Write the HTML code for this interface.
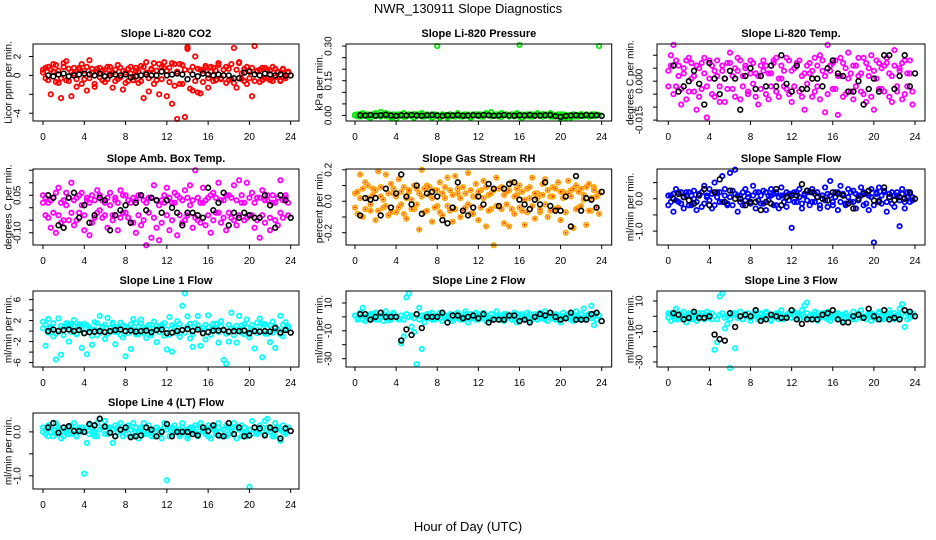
<!DOCTYPE html>
<html><head><meta charset="utf-8"><title>NWR_130911 Slope Diagnostics</title>
<style>
html,body{margin:0;padding:0;background:#fff;}
svg{display:block;font-family:"Liberation Sans",Arial,sans-serif;}
</style></head>
<body>
<svg id="chart" width="936" height="540" viewBox="0 0 936 540" xmlns="http://www.w3.org/2000/svg">
<rect x="0" y="0" width="936" height="540" fill="#fff"/>
<text x="468" y="13" text-anchor="middle" font-size="13" fill="#000">NWR_130911  Slope Diagnostics</text>
<text x="468" y="531" text-anchor="middle" font-size="13" fill="#000">Hour of Day (UTC)</text>
</svg>
<script>
const hoursQ=[0,0.25,0.5,0.75,1,1.25,1.5,1.75,2,2.25,2.5,2.75,3,3.25,3.5,3.75,4,4.25,4.5,4.75,5,5.25,5.5,5.75,6,6.25,6.5,6.75,7,7.25,7.5,7.75,8,8.25,8.5,8.75,9,9.25,9.5,9.75,10,10.25,10.5,10.75,11,11.25,11.5,11.75,12,12.25,12.5,12.75,13,13.25,13.5,13.75,14,14.25,14.5,14.75,15,15.25,15.5,15.75,16,16.25,16.5,16.75,17,17.25,17.5,17.75,18,18.25,18.5,18.75,19,19.25,19.5,19.75,20,20.25,20.5,20.75,21,21.25,21.5,21.75,22,22.25,22.5,22.75,23,23.25,23.5,23.75];
const hoursH=[0.5,1,1.5,2,2.5,3,3.5,4,4.5,5,5.5,6,6.5,7,7.5,8,8.5,9,9.5,10,10.5,11,11.5,12,12.5,13,13.5,14,14.5,15,15.5,16,16.5,17,17.5,18,18.5,19,19.5,20,20.5,21,21.5,22,22.5,23,23.5,24];
const xTicks=[0,4,8,12,16,20,24];

const co2A=[0.6,-0.3,0.9,-2,0.4,1.1,-0.8,-2.4,1.3,-0.5,0.7,-2.2,0.2,-1.2,0.8,1.2,-0.4,-1.6,1.6,0.3,-0.9,0.7,-0.2,0.5,-0.7,0.9,0.2,-1.3,0.6,-0.4,0.8,-1.5,0.3,-0.6,0.9,-0.2,0.5,-0.8,1,-2.4,0.3,-1.7,0.7,1.3,-0.5,-2,0.9,1.4,-2.2,0.8,-3,1.2,-4.6,-0.9,1.1,-4.4,3,0.5,-1.6,2,-1.8,0.6,-0.7,1,-1.3,0.4,0.8,-0.5,1.1,-0.3,0.6,-0.8,0.7,-0.4,2.9,-1.3,1.4,0.2,-0.6,0.9,-0.3,-2.2,3.1,0.5,-0.7,0.8,-0.3,0.6,-0.5,0.9,-0.2,0.4,-0.6,0.7,-0.1,0.3];
const co2B=[0.3,0.8,-0.5,0.6,1.2,-0.7,0.5,-0.3,0.9,1.5,-0.6,0.4,0.8,-0.4,0.6,-0.9,0.5,0.9,-0.3,0.7,-1.2,0.4,0.8,-0.5,0.6,-0.4,0.9,0.3,-0.6,1.1,-0.2,0.5,-0.8,0.7,0.2,-0.5,0.8,0.4,-0.6,0.9,1.4,-0.3,0.6,-0.9,0.5,1.2,-0.4,0.8,0.5,-0.7,1.3,-1.1,0.4,1.2,-0.9,0.6,2.8,-1.4,0.9,-0.6,0.7,-1.9,0.5,0.8,-0.3,0.9,-0.6,0.5,1.3,-0.4,0.6,0.9,-0.5,1.2,-0.8,0.6,1.3,-0.4,0.7,-0.9,0.5,0.8,-0.6,0.4,0.6,-0.5,0.8,-0.3,0.5,-0.6,0.7,0.3,-0.5,0.6,-0.3,0.4];
const co2K=[0,-0.1,0.1,0.2,-0.1,0,0.1,0.2,0.1,0,0.2,-0.1,0,0.1,0,0.1,-0.2,-0.1,0,0.1,0,0,0.4,0,0.1,0.2,0.1,-0.4,0.1,-0.1,0.2,0.1,0,0.1,0,0,-0.3,-0.3,0.3,0.4,0.1,0,0.2,0.1,0,0.1,0,0];

const presA=[0,0.005,-0.005,0.01,0,0.005,-0.01,0.005,0.01,0,0.015,0.005,0.01,0,-0.01,0.005,-0.015,0.005,0,0.01,-0.005,0.005,0,-0.01,0.005,0,0.01,-0.005,0.005,0,-0.01,0.005,0.3,-0.01,0.005,0,-0.01,0.005,0,-0.005,0.01,0,-0.005,0.005,0,-0.01,0.005,0,0.005,-0.005,0,0.01,0.005,0.015,0,0.005,-0.005,0.01,0,0.005,-0.005,0.005,0,0.01,0.305,-0.01,0,0.005,-0.005,0.005,0,0.01,0,-0.005,0.005,0,0.01,-0.005,0,0.005,-0.015,0.005,-0.01,0,-0.01,0.005,0,-0.005,0.005,0,0.005,-0.005,0,0.005,0,0.3];
const presB=[0.003,-0.004,0.006,-0.002,0.004,-0.006,0.002,0.005,-0.003,0.004,-0.005,0.002,-0.004,0.006,0.001,-0.005,0.003,-0.002,0.005,-0.006,0.002,0.004,-0.003,0.006,-0.002,0.004,-0.005,0.003,0.001,-0.004,0.005,-0.002,0.003,-0.006,0.004,0.002,-0.003,0.005,-0.004,0.002,0.006,-0.005,0.003,-0.002,0.004,-0.006,0.002,0.005,-0.003,0.004,-0.005,0.006,0.002,-0.004,0.003,-0.002,0.005,-0.006,0.004,0.001,-0.003,0.005,-0.004,0.002,-0.006,0.004,0.003,-0.002,0.005,-0.005,0.002,0.004,-0.003,0.006,-0.002,0.003,-0.005,0.004,0.002,-0.004,0.005,-0.006,0.003,0.001,-0.003,0.004,-0.005,0.002,0.006,-0.004,0.003,-0.002,0.005,-0.003,0.004,0.002];
const presK=[0.001,0,0.002,-0.001,0.001,0.003,0,-0.002,0.001,0,0.002,0,-0.001,0.001,0.002,0,-0.002,0.001,0,0.002,-0.001,0,0.001,0,0.002,0.001,-0.001,0,0.002,0,-0.001,0.001,0,0.002,-0.001,0,0.001,0.002,-0.003,-0.006,-0.002,0,0.001,-0.001,0.002,0,0.001,-0.002];

const tempA=[0.004,0.01,0.014,-0.002,0.006,-0.009,0.003,0.008,-0.004,0.007,0.002,-0.011,0.005,-0.003,0.009,-0.014,0.001,0.006,-0.006,0.008,-0.002,0.004,-0.008,0.007,0.011,-0.003,0.005,0.009,-0.007,0.002,0.006,-0.004,0.008,-0.001,0.003,-0.009,0.006,0.008,-0.005,0.003,-0.002,0.007,0.009,-0.006,0.001,0.004,-0.003,0.008,-0.008,0.005,0.007,-0.004,0.002,-0.011,0.006,0.003,-0.006,0.009,-0.002,0.010,0.004,-0.012,0.014,0.006,-0.003,0.008,-0.013,0.002,0.007,-0.005,0.011,0.003,-0.007,0.006,0.002,-0.004,0.009,-0.008,0.005,0.010,-0.011,0.001,0.007,-0.003,0.006,0.009,-0.006,0.002,0.012,-0.004,0.005,-0.007,0.008,-0.002,0.003,-0.009];
const tempB=[-0.002,0.006,-0.005,0.008,0.002,-0.003,0.005,-0.007,0.009,0.001,-0.004,0.006,-0.006,0.007,0.003,-0.002,0.008,-0.005,0.004,0.002,-0.008,0.006,0.001,-0.003,0.007,0.002,-0.006,0.004,0.008,-0.002,0.005,-0.005,0.003,0.007,-0.006,0.002,-0.003,0.004,0.006,-0.007,0.003,0.008,-0.004,0.001,0.006,-0.002,0.009,-0.005,0.004,-0.002,0.006,0.008,-0.006,0.003,-0.001,0.007,0.004,-0.004,0.006,-0.007,0.008,0.002,-0.005,0.004,0.007,-0.003,0.002,0.009,-0.006,0.005,0.001,-0.004,0.006,-0.002,0.009,0.003,-0.005,0.007,0.002,-0.006,0.004,0.008,-0.003,0.005,-0.004,0.007,0.003,-0.008,0.006,-0.002,0.004,0.007,-0.005,0.003,0.008,-0.004];
const tempK=[0.006,-0.004,-0.002,0,0.004,-0.001,-0.009,0.007,0.001,-0.005,0.001,0.004,0.001,-0.011,0.002,0.005,-0.003,0.002,-0.002,0.006,-0.002,0.010,-0.001,-0.004,0.006,-0.003,-0.003,0.001,0.001,-0.002,0.005,0.008,0.003,0.002,-0.004,-0.004,0,-0.009,-0.003,0.001,-0.004,0.010,0.010,-0.003,0.002,0.010,-0.002,0.003];

const ambA=[0.05,-0.03,0.02,-0.08,0.04,-0.1,0.08,-0.06,0.03,0.06,-0.05,0.1,-0.07,0.04,-0.02,0.06,-0.09,0.03,-0.11,0.05,-0.04,0.07,-0.01,0.03,0.02,-0.08,0.06,-0.03,0.04,-0.09,0.07,-0.02,0.05,-0.04,0.02,-0.06,-0.1,0.05,-0.07,0.03,-0.15,0.04,-0.12,0.09,-0.08,-0.13,0.03,0.05,0.08,-0.09,0.02,0.06,-0.11,0.04,-0.06,0.07,-0.03,0.09,-0.08,0.15,-0.05,0.02,0.08,-0.07,0.04,-0.1,0.06,-0.02,0.1,-0.06,0.03,-0.09,0.05,-0.04,0.09,-0.07,0.11,0.02,-0.05,0.1,-0.03,0.06,-0.08,0.04,-0.12,0.07,-0.06,0.03,-0.09,0.05,0.02,-0.07,0.11,-0.04,0.04,0.02];
const ambB=[0.02,0.04,-0.04,0.03,-0.02,0.06,-0.03,0.02,-0.05,0.01,0.04,-0.02,0.03,-0.05,0.05,0.01,-0.03,0.04,0.02,-0.06,0.03,-0.02,0.05,-0.04,-0.03,0.04,0.01,-0.05,0.03,0.02,-0.04,0.05,-0.02,0.03,-0.06,0.04,0.03,-0.03,0.05,-0.05,0.02,-0.02,0.04,-0.04,0.03,0.01,-0.06,0.02,-0.03,0.04,-0.05,0.02,0.05,-0.03,0.03,-0.05,0.04,0.01,0.03,-0.04,0.04,-0.06,0.02,0.03,-0.03,0.05,-0.05,0.04,-0.02,0.03,-0.04,0.05,-0.02,0.04,-0.05,0.03,-0.03,0.05,0.02,-0.04,0.04,-0.03,0.02,-0.05,0.04,-0.03,0.03,0.05,-0.04,0.02,-0.05,0.04,-0.02,0.03,0.05,-0.03];
const ambK=[0.05,0.04,-0.07,-0.08,0.04,0.06,-0.04,0.01,-0.06,-0.03,0.04,0.03,-0.09,-0.03,-0.01,0.01,-0.06,0.02,0.05,-0.01,0.04,0.03,-0.02,0.03,0,-0.02,-0.07,-0.02,-0.02,-0.03,-0.04,0.08,-0.01,0.02,0.06,-0.07,-0.02,-0.04,-0.02,-0.03,-0.04,-0.04,0.05,0.01,-0.08,0.05,0.03,-0.04];

const rhA=[0.05,-0.08,0.17,-0.1,0.12,0.02,-0.06,0.08,-0.12,0.19,0.03,-0.04,0.17,-0.09,0.11,0.05,-0.07,0.14,-0.02,0.09,-0.11,0.06,0.01,-0.05,0.08,-0.18,0.2,-0.07,0.1,0.04,-0.13,0.07,-0.03,0.12,-0.09,0.02,0.15,-0.06,-0.13,0.16,0.05,-0.1,0.09,-0.04,0.18,-0.08,0.03,0.11,-0.12,0.07,0.13,-0.16,0.04,-0.05,-0.28,0.15,-0.03,0.09,-0.14,0.06,-0.16,0.12,-0.08,0.04,0.1,-0.06,-0.15,0.08,0.02,0.15,-0.11,0.05,-0.07,0.11,0.14,-0.1,0.03,0.09,-0.05,0.12,-0.12,0.06,-0.2,0.13,0.07,-0.17,0.1,-0.04,0.08,0.01,-0.15,0.11,-0.06,0.09,0.03,-0.08];
const rhB=[-0.04,0.06,0.02,0.08,-0.05,0.1,-0.02,0.04,0.07,-0.06,0.09,0.01,-0.03,0.05,-0.07,0.08,0.03,-0.04,0.06,-0.08,0.02,0.07,-0.05,0.1,-0.02,0.05,0.03,0.08,-0.06,0.09,0.02,-0.04,0.07,-0.07,0.05,0.09,-0.03,0.07,0.04,-0.05,0.08,0.02,-0.06,0.05,-0.02,0.07,-0.08,0.03,0.06,-0.04,0.02,0.09,-0.06,0.05,0.07,-0.03,0.08,-0.05,0.04,-0.02,0.07,-0.05,0.03,0.08,-0.04,0.06,0.01,-0.07,0.09,-0.03,0.05,0.02,-0.05,0.04,-0.02,0.07,-0.06,0.03,0.08,-0.04,0.06,0.02,-0.07,0.05,0.03,0.08,-0.05,0.06,-0.03,0.04,0.09,-0.06,0.02,0.07,-0.04,0.05];
const rhK=[-0.09,0.02,0.01,0.02,-0.09,0.08,-0.04,0.05,0.17,0.03,-0.02,0.1,-0.08,0.05,0.06,0.03,-0.12,-0.14,-0.04,0.12,-0.06,-0.09,-0.04,0.03,-0.02,0.11,0.08,-0.03,0.08,0.11,0.12,0.01,-0.02,-0.05,0.01,-0.02,0.12,-0.03,-0.06,-0.06,0.03,-0.16,0.16,-0.06,0.02,0.01,-0.04,0.06];

const sfA=[-0.2,0.1,-0.4,0.3,-0.1,0.2,-0.3,0.1,0.2,-0.2,0.25,-0.35,0.15,-0.25,0.4,0.05,0.3,-0.3,0.5,0.2,-0.1,0.7,0.3,-0.2,0.8,0.25,0.9,-0.4,0.1,-0.2,0.3,0.05,-0.1,0.4,-0.3,0.2,-0.15,0.25,-0.35,0.1,0.3,-0.2,0.2,-0.3,0.35,0.1,-0.25,0.15,-0.9,0.2,-0.1,0.3,-0.3,0.15,0.25,-0.2,0.3,-0.1,0.2,-0.3,0.1,0.35,-0.25,0.55,-0.1,0.2,-0.35,0.4,0.15,-0.2,0.3,-0.1,0.25,-0.3,0.1,0.35,-0.2,0.15,-0.35,0.3,-1.35,0.2,0.35,-0.15,0.25,-0.4,0.15,0.2,-0.25,0.1,-0.85,0.3,-0.3,0.2,-0.1,0.05];
const sfB=[0.1,-0.1,0.15,-0.05,0.2,-0.15,0.05,0.2,-0.2,0.1,0,-0.1,0.1,0.2,-0.15,0.1,-0.05,0.15,-0.2,0.05,0.2,-0.1,0.1,-0.15,0.05,-0.2,0.15,0.1,-0.1,0.2,-0.05,0.15,-0.15,0.1,0.2,-0.05,0.1,-0.15,0.2,-0.05,0.1,0.15,-0.2,0.05,0.1,-0.1,0.2,-0.05,0.15,-0.1,0.2,0.05,-0.15,0.1,-0.05,0.2,-0.1,0.15,0.05,-0.2,0.1,-0.05,0.15,0.1,-0.2,0.05,0.2,-0.1,0.1,-0.15,0.05,0.2,-0.1,0.15,-0.05,0.1,0.2,-0.15,0.1,0.05,-0.2,0.15,-0.05,0.1,0.2,-0.1,0.05,-0.15,0.1,0.2,-0.05,0.15,-0.1,0.05,0.15,-0.05];
const sfK=[0,0.15,0.05,-0.05,-0.15,0.1,0.3,-0.2,0.2,0.6,-0.1,0.25,0,0,-0.2,-0.1,-0.1,-0.35,-0.1,-0.15,0.3,-0.2,0.05,0.1,0.1,0.45,0.25,0.2,0.05,0,-0.05,0.2,0.15,0.1,-0.15,-0.3,0,0.15,0.25,-0.05,-0.1,0.35,0.05,-0.05,0.05,0,0.2,0];

const l1A=[1.8,-2.8,2.3,0.5,-1,-5.4,2.4,-4.5,0.8,1.5,-2,1.2,2.1,-0.5,0.9,-3.2,1.4,-4.4,0.3,-2.6,1.7,-0.8,2.9,0.6,-1.5,2.5,-0.2,1.3,-2.5,0.8,1.6,-1.2,-4.8,0.4,-3.4,2.3,1.5,-0.6,2.2,0.2,-1.3,1,-0.4,1.8,-2.1,0.7,1.2,-0.9,-3.5,2.7,-3.9,0.8,1.9,-1.1,4.8,7.2,2.8,-1.4,-3,1.5,2.9,-2.8,0.6,-1.6,3,-0.7,1.4,0.3,-2.2,1.9,-5.5,-6.2,-2,3.5,0.5,-2.2,2.9,1.1,-0.6,2.2,-1.2,0.4,-3.3,1.6,2.4,-5,1.3,-0.5,-2.1,1.8,-3.2,0.3,2.9,-1,1.7,0.6];
const l1B=[0.5,1.2,-0.3,0.8,1.5,-0.5,0.2,1,-0.8,0.6,1.4,-0.2,0.9,-0.6,1.3,0.4,-0.4,1.1,0.7,-0.9,0.3,1.5,-0.3,0.9,1.2,-0.5,0.6,1.6,-0.2,0.4,-0.7,1.1,0.8,-0.4,1.3,0.2,-0.6,0.9,1.4,-0.3,0.7,1.2,-0.8,0.5,1,-0.2,0.8,1.5,0.3,-0.7,1.1,0.6,-0.5,1.3,0.2,-0.3,0.9,1.4,-0.6,0.7,1.1,0.3,-0.4,1.2,0.8,-0.7,0.5,1.4,-0.2,0.9,0.3,-0.5,1.2,0.6,-0.8,1,0.4,-0.3,1.3,0.7,-0.6,1.1,0.2,-0.4,0.9,1.4,-0.5,0.6,1.1,-0.3,0.8,0.2,-0.6,1.2,0.5,0.9];
const l1K=[0,0.3,0,0.2,0.3,0,0.2,-0.4,-0.2,-0.1,0,-0.2,0,0.2,0.3,0,0.1,-0.1,0,0.1,-0.2,0.2,0.3,-0.4,-0.3,0,0.2,0.4,0,0.3,-0.4,-0.2,0.1,0.1,0.2,-0.1,0,0,0.1,-0.4,0,-0.1,0,-0.1,0.6,-0.3,0.2,-0.3];

const l2A=[1,-2,3,6.5,-3,1,2,-1.5,3,-2,0,-3,4,-2.5,1,3,0,-2,-19,-14,14,17,-7,-11,-34,6.5,-23,-4,2,-1,3,-2,0,3,-3,1,-1,2,-3,1,3,-2,0,4,-4,2,-1,3,-2,1,3,-3,0,2,-1,4,-2,1,-3,2,0,-2,3,-4,1,2,-1,3,-3,0,2,-2,3,-1,4,-3,0,2,-2,1,-4,3,0,-1,2,-3,4,0,-2,6,-1,2,8,-6,3,1];
const l2B=[1,-1,2,-2,0,1,-1,2,-2,1,0,2,-1,1,-2,2,0,-1,1,-2,2,0,1,-1,2,-2,1,0,-1,2,-2,1,0,-1,2,-1,1,-2,0,2,-1,1,-2,2,0,-1,1,-2,2,0,-1,1,-2,2,-1,0,1,-2,2,-1,0,1,-2,2,-1,0,1,-1,2,-2,0,1,-1,2,-2,1,0,-1,2,-2,1,0,-1,2,-2,1,0,-1,2,-2,1,0,-1,2,-2,1];
const l2K=[2,2,-2,0,3,0,0,0,-17,-9,-13,2,-8,0,0,0,3,-4,1,1,-1,0,1,-1,2,-4,-2,-2,-2,1,1,-3,-2,-4,0,2,1,3,0,-2,-1,3,-2,-2,-2,2,3,-3];

const l3A=[2,-3,1,5,-2,0,3,-4,1,-1,2,-3,0,2,-2,3,1,-2,-22,-17,13,15,-8,-5,-34,2,-21,-1,3,-2,0,2,-3,1,4,-1,2,-2,3,0,-3,1,2,-2,4,-1,0,2,-1,3,-2,1,4,7,9,-2,1,3,-3,0,2,-1,3,-3,0,2,-2,1,-3,2,0,-1,3,-2,1,4,-1,0,2,-3,1,-2,3,0,-2,1,4,-1,2,0,5,8,-7,2,-1,1];
const l3B=[-1,2,0,-2,1,2,-1,0,2,-2,1,-1,2,0,-2,1,-1,2,0,-2,1,2,-1,0,-2,1,2,-1,0,-2,1,2,-1,0,2,-2,1,-1,2,0,-2,1,-1,2,0,-2,1,2,-1,0,2,-2,1,-1,2,0,-2,1,2,-1,0,2,-2,1,-1,0,2,-2,1,2,-1,0,-2,1,2,-1,0,-2,1,2,-1,0,2,-2,1,-1,2,0,-2,1,-1,2,0,-2,1,2];
const l3K=[2,1,-2,-1,3,-1,-1,0,-12,-15,-16,2,-7,0,1,0,4,-3,-2,1,0,-1,-1,4,-2,-5,-2,-2,-2,1,2,4,-2,-4,-4,0,1,-1,5,0,-2,4,-2,-1,-2,4,3,0];

const l4A=[0.1,-0.05,0.15,0,-0.1,0.2,0.05,-0.15,0.1,0,-0.05,0.15,0.2,-0.1,0.05,0.1,-0.95,-0.25,0.15,0,-0.1,0.2,0.3,0.1,0.25,-0.05,0.1,-0.25,0.15,0,0.2,-0.1,0.05,0.15,-0.1,0.2,0,-0.15,0.1,0.2,-0.05,0.15,0,-0.1,0.1,0.05,-0.15,0.2,-1.1,0.1,-0.05,0.15,0,-0.1,0.2,0.05,-0.15,0.1,0,0.15,-0.1,0.2,0.05,-0.05,0.15,-0.15,0.1,0,0.2,-0.1,0.05,0.15,-0.05,0.1,0.2,-0.15,0.05,0.15,0,-0.1,-1.25,0.25,0.1,-0.05,0.15,0,0.25,0.3,0.1,-0.1,0.2,0.05,-0.2,0.15,0,0.1];
const l4B=[0,0.05,-0.1,0.1,0.05,-0.05,0.1,0,-0.1,0.05,0.1,-0.05,0.05,-0.1,0.1,0,0.05,0.1,-0.05,0.1,0,-0.1,0.05,0.1,-0.05,0.1,0,0.05,-0.1,0.1,0.05,0,-0.05,0.1,0.05,-0.1,0.1,0,0.05,-0.05,0.1,0,-0.1,0.05,0.1,-0.05,0,0.1,0.05,-0.1,0.1,0,0.05,-0.05,0.1,0,-0.1,0.05,0.1,0,-0.05,0.1,0,0.05,-0.1,0.1,0.05,-0.05,0.1,0,0.05,-0.1,0.1,0,-0.05,0.1,0.05,-0.1,0.1,0,0.05,-0.05,0.1,0,0.05,0.1,-0.05,0.1,0,0.05,-0.1,0.1,0.05,0,-0.05,0.1];
const l4K=[0.1,0.2,-0.02,0.1,0.13,0.02,0.02,0,0.18,0.15,0.3,0.12,-0.02,-0.1,0.05,0.1,-0.12,-0.1,-0.08,0.1,0.05,-0.1,0,0.18,-0.1,0,0,0,-0.05,-0.08,0.1,0.02,0.15,-0.08,-0.1,0.2,-0.05,0.1,-0.1,-0.08,0.1,0.08,-0.08,0.1,0.05,-0.15,0.08,0.02];

const co2Ticks=[-4,-2,0,2], co2Labels=['-4','','0','2'];
const presTicks=[0,0.05,0.1,0.15,0.2,0.25,0.3], presLabels=['0.00','','','0.15','','','0.30'];
const tempTicks=[-0.015,-0.01,-0.005,0,0.005,0.01], tempLabels=['-0.015','','','0.000','',''];
const ambTicks=[-0.1,-0.05,0,0.05,0.1,0.15], ambLabels=['-0.10','','','0.05','',''];
const rhTicks=[-0.2,-0.1,0,0.1,0.2], rhLabels=['-0.2','','0.0','','0.2'];
const sfTicks=[-1,-0.5,0,0.5], sfLabels=['-1.0','','0.0',''];
const l1Ticks=[-6,-4,-2,0,2,4,6], l1Labels=['-6','','-2','','2','','6'];
const l2Ticks=[-30,-20,-10,0,10], l2Labels=['-30','','-10','','10'];
const l3Ticks=[-30,-20,-10,0,10], l3Labels=['-30','','-10','','10'];
const l4Ticks=[-1,-0.5,0], l4Labels=['-1.0','','0.0'];

const NS='http://www.w3.org/2000/svg';
const svg=document.getElementById('chart');
const cols=[{x0:33,x1:299,h0:43,h24:290.7,lab:18,tit:9},{x0:346,x1:611.7,h0:355,h24:601.7,lab:329,tit:320},{x0:657,x1:925,h0:668.3,h24:915,lab:640,tit:631}];
const rows=[{y0:44,y1:121},{y0:169,y1:245},{y0:291,y1:367},{y0:413,y1:489}];

const panels=[
 {key:'co2',title:'Slope Li-820 CO2',ylab:'Licor ppm per min.',r:0,c:0,dom:[-4.82,3.32],A:co2A,B:co2B,K:co2K,ticks:co2Ticks,labels:co2Labels,col:'#ff0000'},
 {key:'pressure',title:'Slope Li-820 Pressure',ylab:'kPa per min.',r:0,c:1,dom:[-0.024,0.309],A:presA,B:presB,K:presK,ticks:presTicks,labels:presLabels,col:'#00ee00'},
 {key:'temp',title:'Slope Li-820 Temp.',ylab:'degrees C per min.',r:0,c:2,dom:[-0.01535,0.01434],A:tempA,B:tempB,K:tempK,ticks:tempTicks,labels:tempLabels,col:'#ff00ff'},
 {key:'amb-box-temp',title:'Slope Amb. Box Temp.',ylab:'degrees C per min.',r:1,c:0,dom:[-0.149,0.155],A:ambA,B:ambB,K:ambK,ticks:ambTicks,labels:ambLabels,col:'#ff00ff'},
 {key:'gas-stream-rh',title:'Slope Gas Stream RH',ylab:'percent per min.',r:1,c:1,dom:[-0.278,0.205],A:rhA,B:rhB,K:rhK,ticks:rhTicks,labels:rhLabels,col:'#ffa500',inner:'#ff0000'},
 {key:'sample-flow',title:'Slope Sample Flow',ylab:'ml/min per min.',r:1,c:2,dom:[-1.43,0.92],A:sfA,B:sfB,K:sfK,ticks:sfTicks,labels:sfLabels,col:'#0000ff'},
 {key:'line1-flow',title:'Slope Line 1 Flow',ylab:'ml/min per min.',r:2,c:0,dom:[-6.84,7.64],A:l1A,B:l1B,K:l1K,ticks:l1Ticks,labels:l1Labels,col:'#00ffff'},
 {key:'line2-flow',title:'Slope Line 2 Flow',ylab:'ml/min per min.',r:2,c:1,dom:[-36,18.6],A:l2A,B:l2B,K:l2K,ticks:l2Ticks,labels:l2Labels,col:'#00ffff'},
 {key:'line3-flow',title:'Slope Line 3 Flow',ylab:'ml/min per min.',r:2,c:2,dom:[-33.3,16.6],A:l3A,B:l3B,K:l3K,ticks:l3Ticks,labels:l3Labels,col:'#00ffff'},
 {key:'line4-flow',title:'Slope Line 4 (LT) Flow',ylab:'ml/min per min.',r:3,c:0,dom:[-1.30,0.43],A:l4A,B:l4B,K:l4K,ticks:l4Ticks,labels:l4Labels,col:'#00ffff'}
];

function mk(tag,attrs,parent){const e=document.createElementNS(NS,tag);for(const k in attrs)e.setAttribute(k,attrs[k]);parent.appendChild(e);return e;}

panels.forEach(p=>{
  const C=cols[p.c],R=rows[p.r];
  const xs=h=>C.h0+(h/24)*(C.h24-C.h0);
  const ys=v=>R.y1-(v-p.dom[0])/(p.dom[1]-p.dom[0])*(R.y1-R.y0);
  const g=mk('g',{},svg);
  
  
  const t=mk('text',{x:(C.x0+C.x1)/2,y:R.y0-7,'text-anchor':'middle','font-size':'11','font-weight':'bold'},g);
  t.textContent=p.title;
  
  
  const yl=mk('text',{x:C.tit,y:(R.y0+R.y1)/2,'text-anchor':'middle','font-size':'10',transform:'rotate(-90 '+C.tit+' '+((R.y0+R.y1)/2)+')','dominant-baseline':'middle'},g);
  yl.textContent=p.ylab;
  
  
  const pts=mk('g',{},g);
  
  
  [p.A,p.B].forEach(arr=>{
    arr.forEach((v,i)=>{
      const cx=xs(hoursQ[i]),cy=ys(v);
      const c=mk('circle',{cx:cx,cy:cy,r:2.2,fill:'none',stroke:p.col,'stroke-width':1.8},pts);
      
      
      if(p.inner){const d=mk('circle',{cx:cx,cy:cy,r:0.9,fill:p.inner},pts);
        
        }
    });
  });
  p.K.forEach((v,i)=>{
    const c=mk('circle',{cx:xs(hoursH[i]),cy:ys(v),r:2.4,fill:'none',stroke:'#000','stroke-width':1.6},pts);
    
    
  });
  const box=mk('rect',{x:C.x0,y:R.y0,width:C.x1-C.x0,height:R.y1-R.y0,fill:'none',stroke:'#000','stroke-width':1},g);
  
  
  const xa=mk('g',{},g);
  
  
  xTicks.forEach(h=>{
    const x=xs(h);
    mk('line',{x1:x,x2:x,y1:R.y1,y2:R.y1+4,stroke:'#000','stroke-width':1},xa);
    const tl=mk('text',{x:x,y:R.y1+19,'text-anchor':'middle','font-size':'10'},xa);
    tl.textContent=String(h);
    
    
  });
  const ya=mk('g',{},g);
  
  
  p.ticks.forEach((v,i)=>{
    const y=ys(v);
    mk('line',{x1:C.x0-4,x2:C.x0,y1:y,y2:y,stroke:'#000','stroke-width':1},ya);
    if(p.labels[i]){
      const tl=mk('text',{x:C.lab,y:y,'text-anchor':'middle','font-size':'10','dominant-baseline':'middle',transform:'rotate(-90 '+C.lab+' '+y+')'},ya);
      tl.textContent=p.labels[i];
      
      
    }
  });
});
</script>
</body></html>
